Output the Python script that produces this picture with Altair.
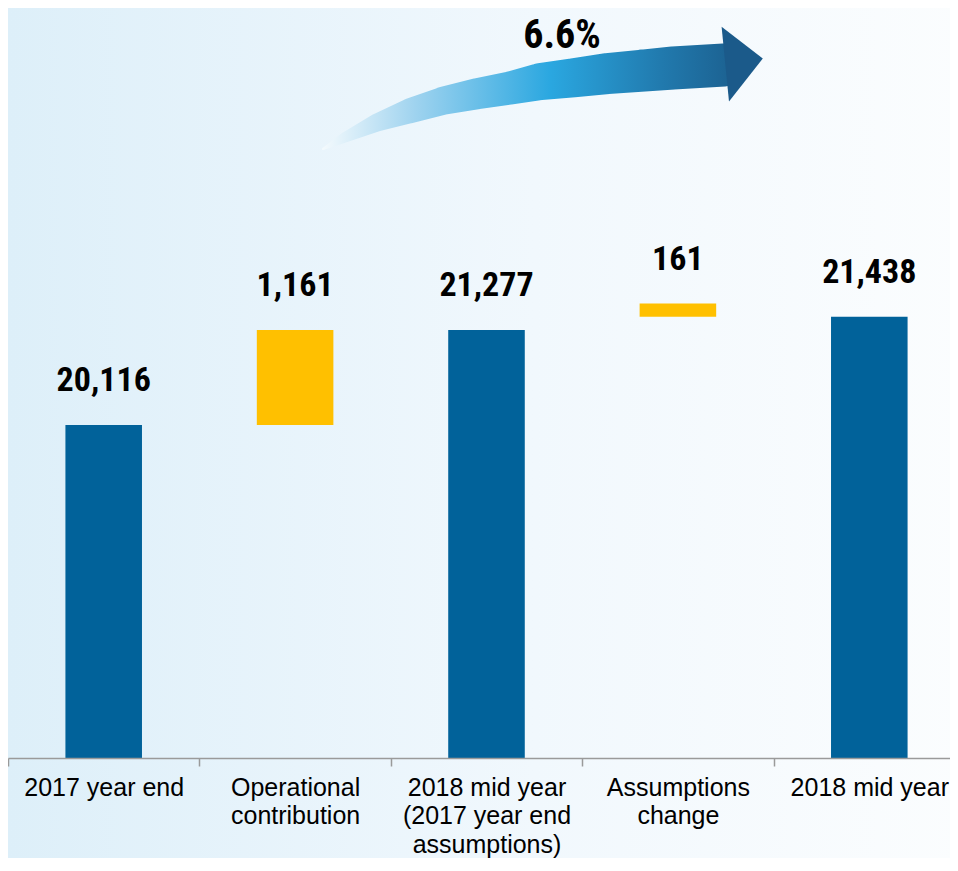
import altair as alt
import pandas as pd

# ---- data ----
categories = [
    "2017 year end",
    "Operational\ncontribution",
    "2018 mid year\n(2017 year end\nassumptions)",
    "Assumptions\nchange",
    "2018 mid year",
]
values = [20116, 1161, 21277, 161, 21438]
kinds = ["total", "delta", "total", "delta", "total"]
# where each bar starts, as drawn in the picture (totals rise from the axis)
bar_start = [0, 20116, 0, 21438, 0]
growth_label = "6.6%"

# decorative growth arrow (plot-pixel space)
arrow_x = [315, 335, 369, 402, 435, 469, 502, 532, 565, 599, 632, 665, 716]
arrow_y = [141, 130.3, 114.5, 102.8, 92.8, 85.8, 80, 73.7, 69.8, 65.7, 62.8, 60, 57]
arrow_w = [2, 10, 18, 25, 28, 31, 33, 37, 39, 41, 42, 43, 43]
head_x = [734]
head_y = [56]

# ---- derived table ----
rows = []
for c, v, k, s in zip(categories, values, kinds, bar_start):
    end = v if k == "total" else s + v
    rows.append({"cat": c, "start": s, "end": end, "kind": k, "value": v})
df = pd.DataFrame(rows)

W, H = 957, 750
PAD_B = 100
PAD_R = 942 - W  # crop the chart at the window edge, like the reference
Y_DOMAIN = [16046, 25211]
STEP = W / 5

NUM_FONT = "Roboto Condensed, Liberation Sans Narrow, DejaVu Sans Condensed"

x_enc = alt.X(
    "cat:N",
    sort=categories,
    title=None,
    scale=alt.Scale(paddingInner=0.6, paddingOuter=0.3),
    axis=alt.Axis(
        labelExpr="split(datum.label, '\\n')",
        labelAngle=0,
        labelFont="Liberation Sans",
        labelFontSize=25,
        labelLineHeight=28.5,
        labelColor="#000000",
        labelPadding=9,
        labelOverlap=False,
        labelLimit=0,
        tickOffset=-STEP / 2,
        labelOffset=STEP / 2,
        tickSize=8,
        tickWidth=1.5,
        tickColor="#9a9a9a",
        domainColor="#9a9a9a",
        domainWidth=1.5,
        grid=False,
        zindex=1,
    ),
)
y_scale = alt.Scale(domain=Y_DOMAIN, nice=False, zero=False)

bars = alt.Chart(df).mark_bar(clip=True).encode(
    x=x_enc,
    y=alt.Y("start:Q", scale=y_scale, axis=None, title=None),
    y2="end:Q",
    color=alt.Color(
        "kind:N",
        scale=alt.Scale(domain=["total", "delta"], range=["#01629a", "#ffc000"]),
        legend=None,
    ),
)

labels = alt.Chart(df).mark_text(
    font=NUM_FONT,
    fontWeight="bold",
    fontSize=34,
    color="#000000",
    baseline="alphabetic",
    dy=-34,
).encode(
    x=alt.X("cat:N", sort=categories),
    y=alt.Y("end:Q", scale=y_scale, axis=None),
    text=alt.Text("value:Q", format=","),
)

main = alt.layer(bars, labels)

ax_scale = alt.Scale(domain=[0, W], nice=False, zero=False)
ay_scale = alt.Scale(domain=[0, H], nice=False, zero=False, reverse=True)

arrow_df = pd.DataFrame({"ax": arrow_x, "ay": arrow_y, "aw": arrow_w})
grad = alt.Gradient(
    gradient="linear",
    x1=0, x2=1, y1=0, y2=0,
    stops=[
        alt.GradientStop(offset=0, color="#f4fafd"),
        alt.GradientStop(offset=0.22, color="#9fd3ef"),
        alt.GradientStop(offset=0.54, color="#2aa7e0"),
        alt.GradientStop(offset=0.8, color="#217aae"),
        alt.GradientStop(offset=1, color="#1b5d8c"),
    ],
)
shaft = alt.Chart(arrow_df).mark_trail(color=grad).encode(
    x=alt.X("ax:Q", scale=ax_scale, axis=None),
    y=alt.Y("ay:Q", scale=ay_scale, axis=None),
    size=alt.Size("aw:Q", scale=None, legend=None),
)
head_df = pd.DataFrame({"ax": head_x, "ay": head_y, "txt": [growth_label]})
head = alt.Chart(head_df).mark_point(
    shape="M-0.51,-0.93L0.52,-0.14L-0.325,0.94Z",
    filled=True,
    size=6400,
    color="#1b5a8a",
    opacity=1,
    strokeWidth=0,
).encode(
    x=alt.X("ax:Q", scale=ax_scale, axis=None),
    y=alt.Y("ay:Q", scale=ay_scale, axis=None),
)
pct = alt.Chart(head_df).mark_text(
    font=NUM_FONT,
    fontWeight="bold",
    fontSize=40,
    color="#000000",
    baseline="alphabetic",
    dx=-180,
    dy=-16,
).encode(
    x=alt.X("ax:Q", scale=ax_scale, axis=None),
    y=alt.Y("ay:Q", scale=ay_scale, axis=None),
    text="txt:N",
)
arrow = alt.layer(shaft, head, pct)

bg_grad = alt.Gradient(
    gradient="linear",
    x1=0, x2=1, y1=0, y2=0,
    stops=[
        alt.GradientStop(offset=0, color="#ddeff9"),
        alt.GradientStop(offset=0.55, color="#f1f8fd"),
        alt.GradientStop(offset=1, color="#fbfdfe"),
    ],
)
bg = alt.Chart(pd.DataFrame({"d": [0]})).mark_rect(color=bg_grad).encode(
    x=alt.value(0), x2=alt.value(W), y=alt.value(0), y2=alt.value(H + PAD_B)
)

chart = (
    alt.layer(bg, main, arrow)
    .resolve_scale(x="independent", y="independent")
    .properties(
        width=W,
        height=H,
        padding={"left": 0, "top": 0, "right": PAD_R, "bottom": PAD_B},
        autosize=alt.AutoSizeParams(type="none"),
        background="#eef6fb",
    )
    .configure_view(stroke=None)
)

chart.save("out.html", embed_options={"renderer": "svg", "actions": False})
